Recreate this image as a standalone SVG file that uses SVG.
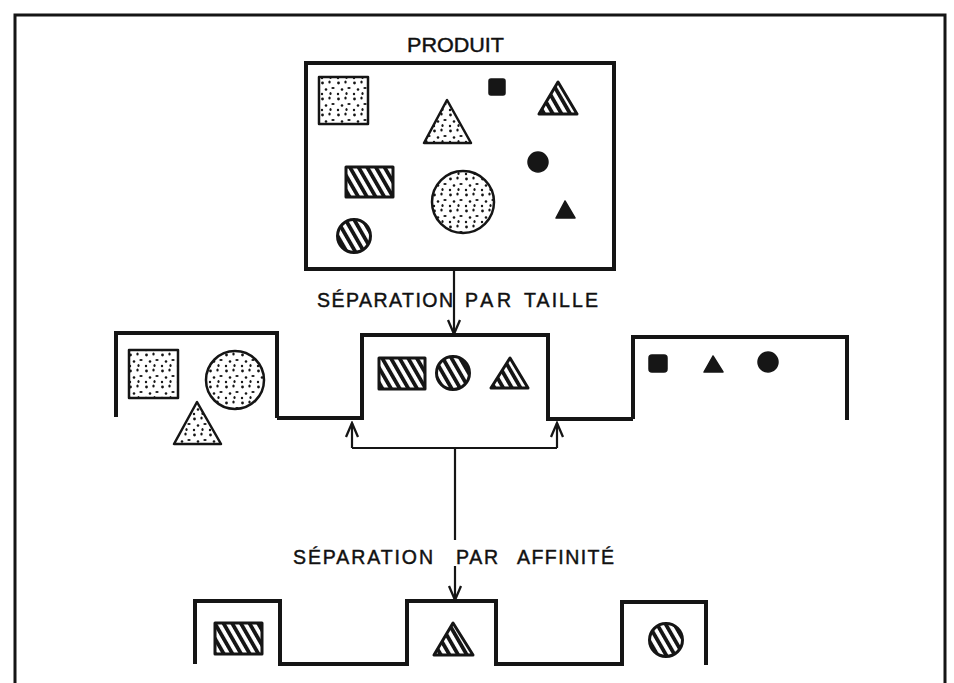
<svg xmlns="http://www.w3.org/2000/svg" width="954" height="683" viewBox="0 0 954 683">
<style>
  .lbl { font-family: "Liberation Sans", Arial, sans-serif; fill: #111; stroke: #111; stroke-width: 0.45; }
  .wall { fill: none; stroke: #151515; stroke-width: 4; stroke-linejoin: miter; }
  .dot { fill: url(#dots); stroke: #151515; stroke-width: 2.5; stroke-linejoin: round; }
  .hat { fill: url(#hatch); stroke: #151515; stroke-width: 3; stroke-linejoin: round; }
  .blk { fill: #161616; stroke: #161616; stroke-width: 1.5; stroke-linejoin: round; }
  .con { fill: none; stroke: #151515; stroke-width: 2.2; }
</style>
<defs>
  <pattern id="hatch" width="7.5" height="7.5" patternUnits="userSpaceOnUse" patternTransform="rotate(-30)">
    <rect width="7.5" height="7.5" fill="#fff"/>
    <rect width="3.8" height="7.5" fill="#151515"/>
  </pattern>
  <pattern id="dots" width="16" height="16" patternUnits="userSpaceOnUse">
    <rect width="16" height="16" fill="#fff"/>
    <circle cx="2.5" cy="3" r="1.4" fill="#151515"/>
    <ellipse cx="9.5" cy="2" rx="1.2" ry="1.6" fill="#151515"/>
    <ellipse cx="13" cy="8" rx="1.7" ry="1.1" fill="#151515"/>
    <circle cx="6" cy="9.5" r="1.3" fill="#151515"/>
    <circle cx="2" cy="14" r="1.2" fill="#151515"/>
    <ellipse cx="10.5" cy="13.5" rx="1.1" ry="1.6" fill="#151515"/>
  </pattern>
  <marker id="arr" viewBox="-16 -8 18 16" refX="0" refY="0" markerWidth="18" markerHeight="16" markerUnits="userSpaceOnUse" orient="auto">
    <path d="M-14,-6 L0,0 L-14,6" fill="none" stroke="#151515" stroke-width="2.3"/>
  </marker>
</defs>
<rect width="954" height="683" fill="#fff"/>
<path d="M15,683 V15 H945 V683" fill="none" stroke="#151515" stroke-width="3"/>

<g id="produit">
  <text class="lbl" x="407" y="52" font-size="21" textLength="97" lengthAdjust="spacingAndGlyphs">PRODUIT</text>
  <rect x="306" y="63" width="308" height="206" class="wall"/>
  <rect x="319" y="77" width="49" height="47" class="dot"/>
  <rect x="489" y="79" width="16" height="16" rx="2" class="blk"/>
  <polygon points="558,82 539,114 577,114" class="hat"/>
  <polygon points="447,100 424,143 471,143" class="dot"/>
  <circle cx="538" cy="162" r="10" class="blk"/>
  <rect x="346" y="167" width="47" height="30" class="hat"/>
  <circle cx="463" cy="202" r="31" class="dot"/>
  <polygon points="565,201 556,218 575,218" class="blk" stroke-width="2.5"/>
  <circle cx="354" cy="236" r="16.5" class="hat"/>
</g>

<g id="taille-gros">
  <path d="M116,417 V333 H277 V418" class="wall"/>
  <rect x="129" y="350" width="49" height="48" class="dot"/>
  <circle cx="235" cy="380" r="29" class="dot"/>
  <polygon points="197,402 174,444 221,444" class="dot"/>
</g>

<g id="taille-moyen">
  <path d="M277,418 H362 V335 H548 V419 H633" class="wall"/>
  <rect x="379" y="358" width="46" height="31" class="hat"/>
  <circle cx="453" cy="373" r="16.5" class="hat"/>
  <polygon points="510,358 491,388 528,388" class="hat"/>
</g>

<g id="taille-petit">
  <path d="M633,419 V337 H847 V420" class="wall"/>
  <rect x="649" y="355" width="18" height="17" rx="3" class="blk"/>
  <polygon points="713,356 704,372 723,372" class="blk" stroke-width="2.5"/>
  <circle cx="768" cy="362" r="10" class="blk"/>
</g>

<g id="affinite">
  <path d="M195,664 V601 H280 V664 H407 V601 H496 V664 H622 V602 H706 V665" class="wall"/>
  <rect x="215" y="623" width="47" height="31" class="hat"/>
  <polygon points="453,623 434,655 473,655" class="hat"/>
  <circle cx="666" cy="640" r="16.5" class="hat"/>
</g>

<g id="connectors">
  <path d="M454,270 V334" class="con" marker-end="url(#arr)"/>
  <path d="M352,448 H557" class="con"/>
  <path d="M352,448 V423" class="con" marker-end="url(#arr)"/>
  <path d="M557,448 V423" class="con" marker-end="url(#arr)"/>
  <path d="M455,448 V540" class="con"/>
  <path d="M455,566 V600" class="con" marker-end="url(#arr)"/>
</g>

<g id="labels">
  <text class="lbl" y="307" font-size="19.5"><tspan x="317" textLength="136" lengthAdjust="spacing">SÉPARATION</tspan> <tspan x="465" textLength="46" lengthAdjust="spacing">PAR</tspan> <tspan x="524" textLength="74" lengthAdjust="spacing">TAILLE</tspan></text>
  <text class="lbl" y="564" font-size="19.5"><tspan x="293" textLength="140" lengthAdjust="spacing">SÉPARATION</tspan> <tspan x="456" textLength="42" lengthAdjust="spacing">PAR</tspan> <tspan x="517" textLength="97" lengthAdjust="spacing">AFFINITÉ</tspan></text>
</g>
</svg>
